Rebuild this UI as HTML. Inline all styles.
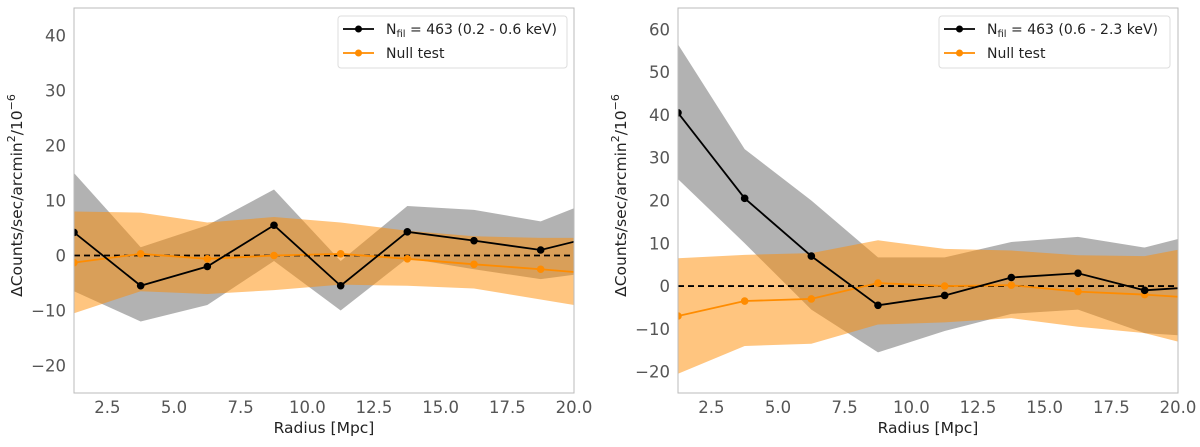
<!DOCTYPE html>
<html><head><meta charset="utf-8"><style>
body{margin:0;background:#fff;width:1200px;height:442px;overflow:hidden}
svg text{font-family:"DejaVu Sans","Liberation Sans",sans-serif}
</style></head><body>
<svg id="svg" width="1200" height="442" xmlns="http://www.w3.org/2000/svg"></svg>
<script>
const xs=[1.25,3.75,6.25,8.75,11.25,13.75,16.25,18.75,21.25];
const xTicks=[2.5,5.0,7.5,10.0,12.5,15.0,17.5,20.0];
const leftYTicks=[-20,-10,0,10,20,30,40];
const rightYTicks=[-20,-10,0,10,20,30,40,50,60];
const leftBlack=[4.2,-5.5,-2,5.5,-5.5,4.3,2.7,1.0,4];
const leftBlackHi=[15,1.5,5.5,12,-1,9,8.3,6.2,11];
const leftBlackLo=[-6.5,-12,-9,-1,-10,-0.5,-2.5,-4.3,-2.7];
const leftNull=[-1.3,0.3,-0.6,0,0.3,-0.6,-1.6,-2.5,-3.5];
const leftNullHi=[8,7.8,6,7,6,4.5,3.5,3.2,3.2];
const leftNullLo=[-10.5,-6.5,-7,-6.3,-5.3,-5.5,-6,-8,-10];
const rightBlack=[40.5,20.5,7,-4.5,-2.2,2,3,-1,0];
const rightBlackHi=[56.5,32,20,6.7,6.7,10.3,11.5,9,13];
const rightBlackLo=[25,10,-5.5,-15.5,-10.5,-6.5,-5.5,-11,-12];
const rightNull=[-7,-3.5,-3,0.7,0,0.2,-1.3,-2,-3];
const rightNullHi=[6.5,7.3,7.7,10.7,8.7,8.3,7.2,7,10];
const rightNullLo=[-20.5,-14,-13.5,-9,-8.5,-7.5,-9.5,-11,-15];

const svg=document.getElementById('svg');
const NS='http://www.w3.org/2000/svg';
function mk(tag,attrs,parent){const e=document.createElementNS(NS,tag);for(const k in attrs)e.setAttribute(k,attrs[k]);(parent||svg).appendChild(e);return e;}

function panel(id,L,R,T,B,ymin,ymax,yTicks,blk,bHi,bLo,nul,nHi,nLo,label,legX,legW){
  const g=mk('g',{});
  
  
  const X=v=>L+(v-1.25)/(20-1.25)*(R-L);
  const Y=v=>B-(v-ymin)/(ymax-ymin)*(B-T);
  const cp=mk('clipPath',{id:'c'+id},g);mk('rect',{x:L,y:T,width:R-L,height:B-T},cp);
  const pg=mk('g',{'clip-path':'url(#c'+id+')'},g);
  function band(hi,lo,fill,op,name){
    let d='M'+xs.map((x,i)=>X(x)+','+Y(hi[i])).join('L');
    for(let i=xs.length-1;i>=0;i--)d+='L'+X(xs[i])+','+Y(lo[i]);
    const p=mk('path',{d:d+'Z',fill:fill,'fill-opacity':op},pg);
    
    
  }
  band(bHi,bLo,'#000',0.3,'signal-error-band');
  band(nHi,nLo,'#ff8c00',0.5,'null-error-band');
  const z=mk('line',{x1:L,x2:R,y1:Y(0),y2:Y(0),stroke:'#000','stroke-width':1.8,'stroke-dasharray':'6,4'},pg);
  
  
  function series(v,col,name){
    const l=mk('polyline',{points:xs.map((x,i)=>X(x)+','+Y(v[i])).join(' '),fill:'none',stroke:col,'stroke-width':1.8},pg);
    
    
    v.forEach((y,i)=>{const c=mk('circle',{cx:X(xs[i]),cy:Y(y),r:3.8,fill:col},pg);
      
      });
  }
  series(nul,'#ff8c00','null-test');
  series(blk,'#000','signal');
  const fr=mk('rect',{x:L,y:T,width:R-L,height:B-T,fill:'none',stroke:'#bbb','stroke-width':1},g);
  
  
  xTicks.forEach(t=>{const tx=mk('text',{x:X(t),y:B+20,'text-anchor':'middle','font-size':16.5,fill:'#555'},g);tx.textContent=t.toFixed(1);
    
    });
  yTicks.forEach(t=>{const tx=mk('text',{x:L-8,y:Y(t)+6,'text-anchor':'end','font-size':16.5,fill:'#555'},g);tx.textContent=t<0?'\u2212'+(-t):t;
    
    });
  const xl=mk('text',{x:(L+R)/2,y:B+40,'text-anchor':'middle','font-size':15.5,fill:'#222'},g);xl.textContent='Radius [Mpc]';
  
  
  const yl=mk('text',{x:0,y:0,'text-anchor':'middle','font-size':15.5,fill:'#222',transform:'translate('+(L-52)+','+((T+B)/2-5)+') rotate(-90)'},g);
  yl.innerHTML='ΔCounts/sec/arcmin<tspan dy="-7" font-size="11">2</tspan><tspan dy="7">/10</tspan><tspan dy="-7" font-size="11">−6</tspan>';
  
  
  const lg=mk('g',{},g);
  
  
  mk('rect',{x:legX,y:16,width:legW,height:52,rx:3,fill:'#fff','fill-opacity':0.85,stroke:'#ddd'},lg);
  [[29,'#000',label],[53,'#ff8c00','Null test']].forEach(([y,c,t],i)=>{
    const e=mk('g',{},lg);
    
    
    mk('line',{x1:legX+5,x2:legX+36,y1:y,y2:y,stroke:c,'stroke-width':1.8},e);
    mk('circle',{cx:legX+20.5,cy:y,r:3.5,fill:c},e);
    const tx=mk('text',{x:legX+48,y:y+5,'font-size':14,fill:'#222'},e);tx.innerHTML=t;
  });
}
panel('left',74,574,8,393,-25,45,leftYTicks,leftBlack,leftBlackHi,leftBlackLo,leftNull,leftNullHi,leftNullLo,
 'N<tspan font-size="10" dy="3">fil</tspan><tspan dy="-3"> = 463 (0.2 - 0.6 keV)</tspan>',338,229);
panel('right',678,1178,8,393,-25,65,rightYTicks,rightBlack,rightBlackHi,rightBlackLo,rightNull,rightNullHi,rightNullLo,
 'N<tspan font-size="10" dy="3">fil</tspan><tspan dy="-3"> = 463 (0.6 - 2.3 keV)</tspan>',939,231);
</script>
</body></html>
